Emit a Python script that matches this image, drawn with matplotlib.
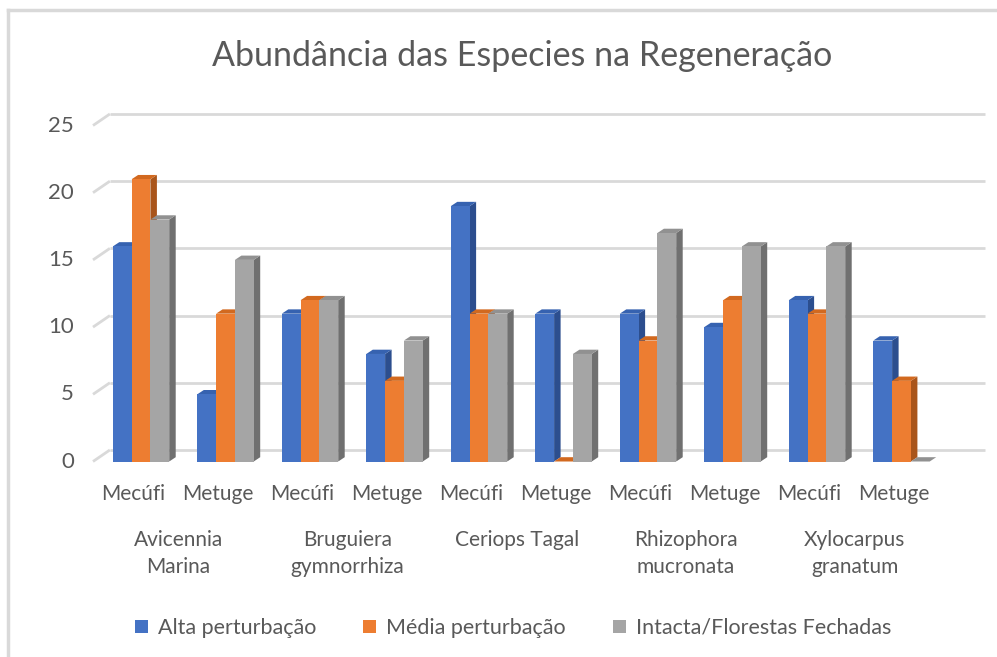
import matplotlib
matplotlib.use("Agg")
import matplotlib.pyplot as plt
from matplotlib.patches import Polygon, Patch
import numpy as np

plt.rcParams['font.family'] = ['Lato', 'DejaVu Sans']

# ---- data ----
species = ["Avicennia\nMarina", "Bruguiera\ngymnorrhiza", "Ceriops Tagal",
           "Rhizophora\nmucronata", "Xylocarpus\ngranatum"]
sites = ["Mecúfi", "Metuge"]
series_names = ["Alta perturbação", "Média perturbação", "Intacta/Florestas Fechadas"]
alta = [16, 5, 11, 8, 19, 11, 11, 10, 12, 9]
media = [21, 11, 12, 6, 11, 0, 9, 12, 11, 6]
intacta = [18, 15, 12, 9, 11, 8, 17, 16, 16, 0]
yticks = [0, 5, 10, 15, 20, 25]

front_cols = ["#4472C4", "#ED7D31", "#A5A5A5"]
top_cols = ["#3662B0", "#D2691F", "#919191"]
side_cols = ["#2C4E8E", "#A9551B", "#707070"]
text_col = "#595959"
grid_col = "#D9D9D9"

W, H = 997, 657
fig = plt.figure(figsize=(W / 100, H / 100), dpi=100)

# axes geometry (pixel-derived)
x0_px, xunit = 141.0, 84.5
y0_px, yunit = 461.5, 13.44
xlim = (-0.6, 10.0)
ylim = (-1.5, 26.5)
left = (x0_px + xlim[0] * xunit) / W
right = (x0_px + xlim[1] * xunit) / W
bottom = 1 - (y0_px - ylim[0] * yunit) / H
top = 1 - (y0_px - ylim[1] * yunit) / H
ax = fig.add_axes([left, bottom, right - left, top - bottom])
ax.set_xlim(*xlim)
ax.set_ylim(*ylim)
for s in ax.spines.values():
    s.set_visible(False)
ax.set_xticks([])
ax.set_yticks(yticks)
ax.set_yticklabels([])
ax.tick_params(axis='y', length=0)
for t in yticks:
    ax.text((74 - x0_px) / xunit, t, str(t), ha='right', va='center', fontsize=16,
            color=text_col, clip_on=False)

# back wall gridlines with 3D floor offset
wall_dx, wall_dy = 0.2, 0.86
for t in yticks:
    ax.plot([-0.568, -0.568 + wall_dx], [t, t + wall_dy], color=grid_col, lw=2, zorder=1,
            solid_capstyle='butt')
    ax.plot([-0.568 + wall_dx, 9.99], [t + wall_dy, t + wall_dy], color=grid_col, lw=2,
            zorder=1, solid_capstyle='butt')

# bars with 3D faces
bw = 0.2225
ddx, ddy = 0.077, 0.32
all_series = [alta, media, intacta]
n = len(alta)
for si, vals in enumerate(all_series):
    for i, v in enumerate(vals):
        xc = i + (si - 1) * bw
        xl, xr = xc - bw / 2, xc + bw / 2
        z = 3 + si
        ax.add_patch(Polygon([(xr, 0), (xr + ddx, ddy), (xr + ddx, v + ddy), (xr, v)],
                             closed=True, facecolor=side_cols[si], edgecolor='none', zorder=z))
        ax.add_patch(Polygon([(xl, v), (xl + ddx, v + ddy), (xr + ddx, v + ddy), (xr, v)],
                             closed=True, facecolor=top_cols[si], edgecolor='none', zorder=z))
        if v > 0:
            ax.add_patch(Polygon([(xl, 0), (xl, v), (xr, v), (xr, 0)],
                                 closed=True, facecolor=front_cols[si], edgecolor='none', zorder=z))

# category labels
lab_off = -0.09
for i in range(n):
    ax.text(i + lab_off, -2.42, sites[i % 2], ha='center', va='center', fontsize=15,
            color=text_col, clip_on=False)
for g, name in enumerate(species):
    ax.text(2 * g + 0.5 + lab_off * 0.6, (y0_px - 530) / yunit, name, ha='center', va='top',
            fontsize=15, color=text_col, linespacing=1.45, clip_on=False)

# title
fig.text(522 / W, 1 - 56 / H, "Abundância das Especies na Regeneração", ha='center',
         va='center', fontsize=24.5, color=text_col)

# legend
handles = [Patch(facecolor=c, edgecolor='none') for c in front_cols]
fig.legend(handles, series_names, loc='center', bbox_to_anchor=(513 / W, 1 - 628 / H),
           ncol=3, frameon=False, fontsize=15.5, handlelength=0.6, handleheight=0.6,
           handletextpad=0.45, columnspacing=2.2, labelcolor=text_col)

# chart border (left and top edges visible)
fig.add_artist(plt.Line2D([7.5 / W, 7.5 / W], [0, 1 - 9.5 / H], color=grid_col, lw=2.5))
fig.add_artist(plt.Line2D([7.5 / W, 1], [1 - 9.5 / H, 1 - 9.5 / H], color=grid_col, lw=2.5))

fig.savefig("out.png", dpi=100)
